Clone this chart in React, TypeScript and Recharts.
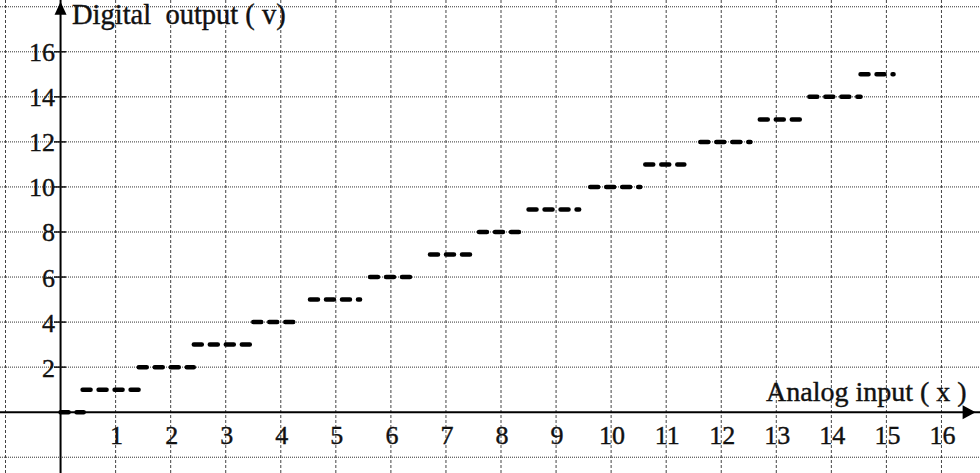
import { Line, LineChart, ReferenceDot, ReferenceLine, XAxis, YAxis } from "recharts";

// output level of each step and where its dashed run starts / ends on the input axis
const levels = [0, 1, 2, 3, 4, 5, 6, 7, 8, 9, 10, 11, 12, 13, 14, 15];
const stepStart = [0, 0.4, 1.42, 2.42, 3.5, 4.53, 5.62, 6.71, 7.6, 8.5, 9.62, 10.62, 11.62, 12.7, 13.6, 14.53];
const stepEnd = [0.42, 1.53, 2.42, 3.53, 4.33, 5.44, 6.44, 7.53, 8.33, 9.42, 10.53, 11.33, 12.53, 13.44, 14.53, 15.13];

const xGrid = [-1, 1, 2, 3, 4, 5, 6, 7, 8, 9, 10, 11, 12, 13, 14, 15, 16];
const yGrid = [-2, 2, 4, 6, 8, 10, 12, 14, 16, 18];
const xLabels = [1, 2, 3, 4, 5, 6, 7, 8, 9, 10, 11, 12, 13, 14, 15, 16];
const yLabels = [2, 4, 6, 8, 10, 12, 14, 16];

const W = 980;
const H = 473;
const FONT = "'Liberation Serif', 'DejaVu Serif', serif";

// null rows break the line between two steps
const data: { x: number; y: number | null }[] = [];
levels.forEach((v, i) => {
  data.push({ x: stepStart[i], y: v });
  data.push({ x: stepEnd[i], y: v });
  data.push({ x: stepEnd[i], y: null });
});

const textStyle = { fontFamily: FONT, fontSize: 26, fill: "#111", stroke: "#111", strokeWidth: 0.4 };

function XTick(props: any) {
  const v = props.payload?.value;
  return (
    <text x={props.x + 1} y={435} textAnchor="middle" dominantBaseline="central" {...textStyle}>
      {v}
    </text>
  );
}

function YTick(props: any) {
  const v = props.payload?.value;
  return (
    <g>
      <line x1={54} x2={66} y1={props.y} y2={props.y} stroke="#111" strokeWidth={1.5} />
      <text x={55} y={props.y + 1} textAnchor="end" dominantBaseline="central" {...textStyle}>
        {v}
      </text>
    </g>
  );
}

const arrowRight = (p: any) => (
  <polygon points={`${p.cx},${p.cy} ${p.cx - 13},${p.cy - 7} ${p.cx - 13},${p.cy + 7}`} fill="#000" />
);
const arrowUp = (p: any) => (
  <polygon points={`${p.cx},${p.cy} ${p.cx - 6},${p.cy + 13} ${p.cx + 6},${p.cy + 13}`} fill="#000" />
);

const titleStyle = {
  position: "absolute" as const,
  lineHeight: "32px",
  fontFamily: FONT,
  color: "#111",
  whiteSpace: "pre" as const,
  WebkitTextStroke: "0.4px #111",
};

export default function App() {
  return (
    <div style={{ position: "absolute", left: 0, top: 0, width: W, height: H, background: "#fff", overflow: "hidden" }}>
      <LineChart width={W} height={H} data={data} margin={{ top: 0, right: 0, bottom: -40, left: -60 }}>
        <XAxis
          type="number"
          dataKey="x"
          domain={[-1.1, 16.7]}
          allowDataOverflow
          ticks={xLabels}
          height={40}
          axisLine={false}
          tickLine={false}
          tick={XTick}
          interval={0}
        />
        <YAxis
          type="number"
          domain={[-2.7, 18.3]}
          allowDataOverflow
          ticks={yLabels}
          width={60}
          axisLine={false}
          tickLine={false}
          tick={YTick}
          interval={0}
        />
        {xGrid.map((v) => (
          <ReferenceLine key={`vx${v}`} x={v} stroke="#444" strokeWidth={1} strokeDasharray="3 2" />
        ))}
        {yGrid.map((v) => (
          <ReferenceLine key={`hy${v}`} y={v} stroke="#333" strokeWidth={1} strokeDasharray="1 1" />
        ))}
        <ReferenceLine y={0} stroke="#000" strokeWidth={2} />
        <ReferenceLine x={0} stroke="#000" strokeWidth={2} />
        <ReferenceDot x={16.62} y={0} r={1} shape={arrowRight} />
        <ReferenceDot x={0} y={18.22} r={1} shape={arrowUp} />
        <Line
          type="linear"
          dataKey="y"
          stroke="#000"
          strokeWidth={4.5}
          strokeDasharray="8 8"
          strokeLinecap="round"
          dot={false}
          activeDot={false}
          connectNulls={false}
          isAnimationActive={false}
        />
      </LineChart>
      <div style={{ ...titleStyle, left: 72, top: -1, fontSize: 28.5 }}>{"Digital  output ( v)"}</div>
      <div style={{ ...titleStyle, left: 766, top: 376, fontSize: 28 }}>{"Analog input ( x )"}</div>
    </div>
  );
}
